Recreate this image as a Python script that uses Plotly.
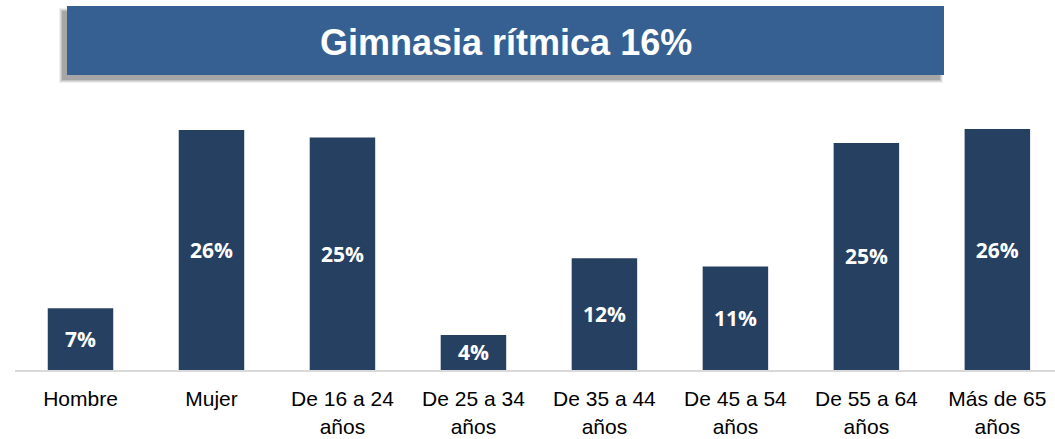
import plotly.graph_objects as go

categories = ["Hombre", "Mujer", "De 16 a 24<br>años", "De 25 a 34<br>años", "De 35 a 44<br>años",
              "De 45 a 54<br>años", "De 55 a 64<br>años", "Más de 65<br>años"]
values = [6.7, 26.0, 25.2, 3.8, 12.1, 11.2, 24.6, 26.1]
labels = ["7%", "26%", "25%", "4%", "12%", "11%", "25%", "26%"]
title_text = "Gimnasia rítmica 16%"

W, H = 1055, 439
L, R, T, B = 15, 0, 100, 69
pw, ph = W - L - R, H - T - B

def px2paper_x(px):
    return (px - L) / pw

def px2paper_y(py):
    return (H - B - py) / ph

fig = go.Figure(go.Bar(
    x=list(range(len(categories))), y=values, text=labels,
    textposition="inside", insidetextanchor="middle",
    textfont=dict(family="Open Sans", size=21, color="white", weight="bold"),
    marker=dict(color="#264061", line=dict(width=0)),
    width=0.5, hoverinfo="skip", cliponaxis=False,
))

shapes = []
# soft shadow of banner (offset down-left)
for i, a in enumerate([0.08, 0.12, 0.16, 0.22]):
    d = 3 - i
    shapes.append(dict(type="rect", xref="paper", yref="paper",
                       x0=px2paper_x(62 - d), x1=px2paper_x(940 + d),
                       y0=px2paper_y(11 - d), y1=px2paper_y(80 + d),
                       fillcolor=f"rgba(70,70,70,{a})", line=dict(width=0), layer="above"))
shapes.append(dict(type="rect", xref="paper", yref="paper",
                   x0=px2paper_x(67), x1=px2paper_x(944),
                   y0=px2paper_y(6), y1=px2paper_y(75),
                   fillcolor="#366092", line=dict(width=0), layer="above"))

fig.update_layout(
    width=W, height=H,
    margin=dict(l=L, r=R, t=T, b=B),
    paper_bgcolor="white", plot_bgcolor="white",
    showlegend=False,
    shapes=shapes,
    annotations=[dict(text=f"<b>{title_text}</b>", xref="paper", yref="paper",
                      x=px2paper_x(506), y=px2paper_y(42), showarrow=False,
                      xanchor="center", yanchor="middle",
                      font=dict(family="Liberation Sans, Arial", size=36, color="white"))],
    xaxis=dict(tickmode="array", tickvals=list(range(len(categories))), ticktext=categories,
               range=[-0.5, 7.44], showgrid=False, zeroline=False,
               showline=True, linecolor="#d9d9d9", linewidth=2, ticks="",
               ticklabelstandoff=9,
               tickfont=dict(family="Liberation Sans, Arial", size=21, color="black")),
    yaxis=dict(range=[0, 29.25], visible=False, showgrid=False, zeroline=False),
    bargap=0.5,
)

fig.write_html("out.html", config={"displayModeBar": False},
               post_script="document.body.style.margin='0';document.body.style.padding='0';")
